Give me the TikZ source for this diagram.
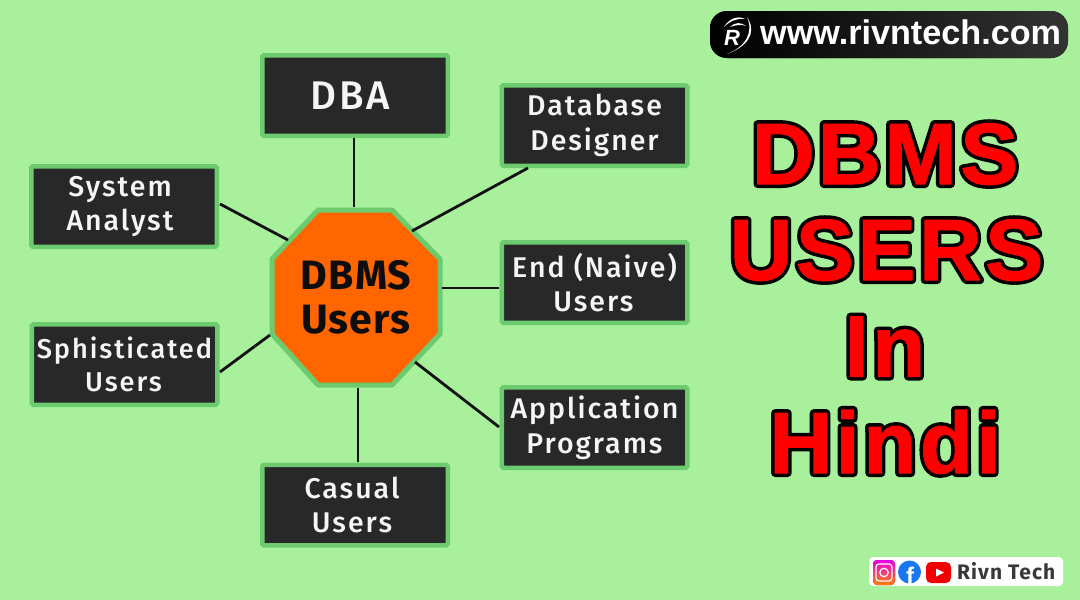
\documentclass[tikz,border=0pt]{standalone}
\usepackage{fontspec}
\setmainfont{Fira Sans}
\newfontfamily\boxfont[LetterSpace=7]{Fira Sans Medium}
\newfontfamily\brandfont[LetterSpace=5]{Fira Sans}
\newfontfamily\hubfont[LetterSpace=3]{Fira Sans}
\newfontfamily\arialb{Liberation Sans Bold}
\newfontfamily\titlefont[LetterSpace=4]{Liberation Sans Bold}
\newcommand{\outlined}[1]{\rlap{\special{pdf:code q 2 Tr 8 w 0 0 0 RG 0 0 0 rg 1 J 1 j}#1\special{pdf:code Q}}\special{pdf:code q 2 Tr 1 w 1 0 0 RG 1 0 0 rg 1 J 1 j}#1\special{pdf:code Q}}
\newcommand{\pad}[1]{\hspace*{#1pt}}
\definecolor{bgreen}{HTML}{A8F09C}
\definecolor{bordergreen}{HTML}{6CCB6E}
\definecolor{boxdark}{HTML}{282828}
\definecolor{hubor}{HTML}{FF6600}
\definecolor{titlered}{HTML}{FF0000}
\definecolor{fbblue}{HTML}{1877F2}
\definecolor{ytred}{HTML}{F00000}
\tikzset{
  userbox/.style={draw=bordergreen,line width=4.5pt,rounded corners=1.5pt,fill=boxdark,text=white!96!black,minimum width=185.5pt,minimum height=80.5pt,align=center,font=\boxfont\fontsize{28.5}{34.5}\selectfont,inner sep=0pt},
  link/.style={draw=black!93,line width=2.8pt},
  titlenode/.style={anchor=base,inner sep=0pt,text=titlered,font=\titlefont\fontsize{87}{87}\selectfont},
}
\begin{document}
\begin{tikzpicture}[x=1pt,y=-1pt]
\useasboundingbox (0,0) rectangle (1080,600);
\fill[bgreen] (0,0) rectangle (1080,600);
% boxes
\node[userbox,font=\boxfont\fontsize{40}{44}\selectfont] (dba) at (355,95.5) {DBA\pad{10}};
\node[userbox] (designer) at (594.5,125.5) {Database\\Designer};
\node[userbox] (analyst) at (124,206.5) {System\pad{8}\\Analyst\pad{8}};
\node[userbox] (enduser) at (594.5,282.5) {End (Naive)\\Users\pad{2}};
\node[userbox,font=\boxfont\fontsize{27.2}{33.5}\selectfont] (soph) at (124.5,364.5) {Sphisticated\\Users\pad{2}};
\node[userbox] (appl) at (594.5,427.5) {Application\\Programs};
\node[userbox] (casual) at (355,505) {Casual\pad{6}\\Users\pad{6}};
% hub
\coordinate (h1) at (318,210);
\coordinate (h2) at (392,210);
\coordinate (h3) at (440,259);
\coordinate (h4) at (440,334);
\coordinate (h5) at (392,385);
\coordinate (h6) at (318,385);
\coordinate (h7) at (272,334);
\coordinate (h8) at (272,259);
\draw[draw=bordergreen,line width=5pt,fill=hubor,line join=round] (h1)--(h2)--(h3)--(h4)--(h5)--(h6)--(h7)--(h8)--cycle;
\node[align=center,inner sep=0pt,text=black!95,font=\hubfont\bfseries\fontsize{41}{44}\selectfont] (hub) at (356,297) {DBMS\\Users};
% connector ends on the hub
\coordinate (c1) at (354,207);
\coordinate (c2) at (412,231);
\coordinate (c3) at (288,240);
\coordinate (c4) at (442,288);
\coordinate (c5) at (270,335);
\coordinate (c6) at (415,362);
\coordinate (c7) at (358,388);
\coordinate (d1) at (354,138);
\coordinate (d2) at (528,168);
\coordinate (d3) at (220,204);
\coordinate (d4) at (499,288);
\coordinate (d5) at (220,372);
\coordinate (d6) at (499,427);
\coordinate (d7) at (358,462);
\draw[link] (d1) -- (c1);
\draw[link] (d2) -- (c2);
\draw[link] (d3) -- (c3);
\draw[link] (d4) -- (c4);
\draw[link] (d5) -- (c5);
\draw[link] (d6) -- (c6);
\draw[link] (d7) -- (c7);
% title
\node[titlenode] (t1) at (885,184) {\outlined{DBMS}};
\node[titlenode] (t2) at (886.5,280) {\outlined{USERS}};
\node[titlenode] (t3) at (885,376.5) {\outlined{In}};
\node[titlenode] (t4) at (885,473) {\outlined{Hindi}};
% website badge
\fill[left color=black,right color=black!80!white,rounded corners=17pt] (710,11) rectangle (1068,58);
\fill[white] (727,54) .. controls (746,47) and (758,34) .. (747,17) .. controls (754,33) and (745,47) .. (727,54) -- cycle;
\fill[white] (724,27) .. controls (729,19) and (737,15) .. (745,19) .. controls (737,18) and (730,21) .. (724,27) -- cycle;
\fill[white] (730,27) .. controls (735,22) and (741,22) .. (746,26) .. controls (741,24) and (736,25) .. (730,27) -- cycle;
\node[inner sep=0pt,text=white,font=\arialb\itshape\fontsize{22}{22}\selectfont] (rmark) at (732,38) {R};
\node[inner sep=0pt,anchor=base west,text=white,font=\arialb\fontsize{34.2}{34.2}\selectfont] (url) at (760,44) {www.rivntech.com};
% social badge
\fill[white,rounded corners=4pt] (869,557) rectangle (1063,586);
\fill[bottom color=orange,top color=magenta!80!violet,rounded corners=4pt] (873,560) rectangle (895,585);
\draw[white,line width=1.2pt,rounded corners=3pt] (876,564) rectangle (892,581);
\draw[white,line width=1.2pt] (884,572.5) circle (4.2);
\fill[fbblue] (909.5,572) circle (11.5);
\node[inner sep=0pt,anchor=base,text=white,font=\arialb\fontsize{24}{24}\selectfont] (fbmark) at (910,584) {f};
\fill[ytred,rounded corners=5pt] (926,562) rectangle (951,583);
\fill[white] (936,568.5) -- (944,572.5) -- (936,576.5) -- cycle;
\node[inner sep=0pt,anchor=base west,text=black!78,font=\brandfont\bfseries\fontsize{21}{21}\selectfont] (brand) at (957,579) {Rivn Tech};
\end{tikzpicture}
\end{document}
